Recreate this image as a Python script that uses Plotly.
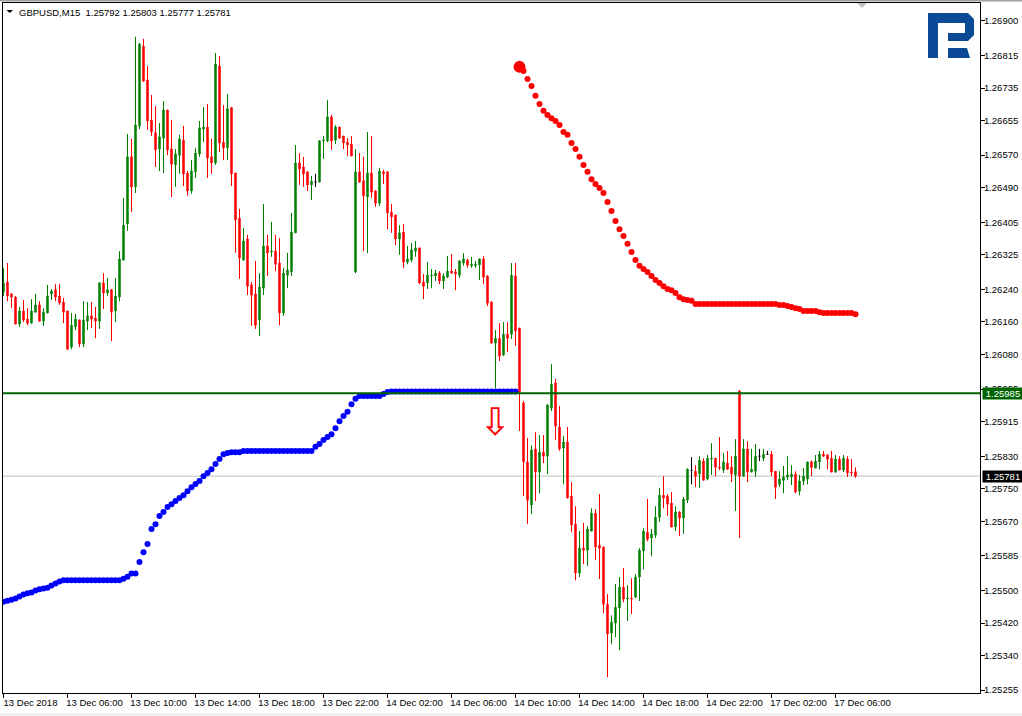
import plotly.graph_objects as go

# All prices are stored in points (0.00001) above 1.25000
BASE = 1.25
def px(points):
    return [BASE + p / 1e5 for p in points]

opens = [1234,1258,1229,1221,1155,1187,1167,1157,1184,1202,1162,1182,1229,1239,1224,1209,1187,1098,1148,1165,
 1106,1162,1175,1170,1162,1256,1231,1239,1187,1221,1312,1401,1566,1492,1642,1838,1755,1656,1625,1585,
 1612,1681,1585,1546,1570,1607,1526,1482,1529,1573,1634,1639,1566,1551,1789,1602,1588,1687,1526,1415,
 1312,1364,1251,1229,1165,1243,1347,1332,1334,1305,1182,1275,1283,1379,1551,1541,1529,1497,1504,1504,
 1605,1605,1664,1607,1639,1617,1602,1597,1283,1529,1507,1467,1526,1482,1452,1529,1529,1430,1423,1364,
 1381,1307,1312,1334,1342,1258,1256,1273,1273,1280,1261,1270,1285,1283,1275,1305,1312,1298,1298,1300,
 1315,1273,1209,1108,1120,1079,1130,1130,1273,1145,961,816,710,848,791,840,830,948,1010,902,
 850,865,732,663,543,604,599,646,690,611,607,466,395,420,457,508,479,481,484,533,
 597,643,629,636,680,734,732,715,656,693,678,722,795,793,786,818,774,823,825,803,
 796,813,803,784,990,781,848,791,793,830,825,835,835,793,761,771,779,779,786,744,
 769,774,816,801,816,835,833,825,791,823,796,823,791,792]
closes = [1255,1224,1221,1155,1187,1165,1157,1187,1202,1162,1184,1224,1236,1221,1207,1184,1093,1152,1167,1106,
 1165,1175,1167,1162,1256,1231,1239,1184,1224,1315,1398,1566,1492,1644,1843,1752,1654,1627,1583,1615,
 1681,1583,1548,1573,1610,1524,1482,1531,1575,1637,1639,1563,1551,1794,1600,1588,1684,1524,1411,1317,
 1359,1248,1226,1152,1246,1347,1330,1334,1302,1182,1280,1288,1381,1551,1536,1524,1497,1506,1504,1605,
 1607,1664,1605,1639,1612,1600,1595,1568,1529,1504,1470,1526,1479,1452,1531,1524,1428,1418,1364,1379,
 1307,1315,1337,1342,1256,1248,1275,1275,1280,1261,1273,1285,1280,1278,1310,1315,1300,1302,1302,1315,
 1270,1206,1108,1120,1076,1130,1120,1275,1138,988,816,722,845,791,840,830,956,1007,904,848,
 865,727,661,543,604,599,651,690,607,604,466,393,422,459,508,479,481,479,533,599,
 646,626,639,680,734,727,712,656,693,678,725,798,795,781,820,771,825,825,803,801,
 816,798,786,830,781,848,791,798,830,830,835,835,791,754,774,779,784,786,742,769,
 781,816,803,818,835,830,823,791,823,796,825,789,789,781]
highs = [1292,1305,1231,1224,1197,1214,1194,1216,1229,1211,1194,1251,1241,1253,1253,1219,1187,1182,1180,1165,
 1211,1209,1209,1197,1258,1280,1268,1241,1268,1334,1465,1622,1610,1861,1846,1856,1789,1718,1691,1649,
 1703,1681,1656,1585,1620,1642,1531,1558,1588,1654,1688,1696,1610,1821,1814,1693,1720,1688,1526,1438,
 1391,1374,1258,1310,1280,1450,1374,1406,1374,1366,1293,1330,1428,1595,1575,1566,1529,1519,1524,1607,
 1617,1706,1669,1644,1639,1617,1612,1617,1585,1575,1566,1627,1617,1484,1539,1534,1531,1450,1423,1398,
 1401,1347,1354,1359,1342,1278,1307,1290,1288,1285,1280,1322,1327,1290,1312,1329,1315,1320,1310,1315,
 1322,1275,1211,1140,1157,1160,1160,1305,1305,1145,966,875,857,889,882,882,958,1057,1020,953,
 880,902,766,707,646,666,658,702,700,737,607,491,439,516,533,555,513,530,540,604,
 653,725,651,707,752,781,737,742,707,695,730,800,828,808,830,825,833,862,825,877,
 838,843,830,872,993,872,867,848,860,848,848,843,843,793,793,806,830,808,793,784,
 801,816,820,833,843,843,835,843,833,830,833,830,823,803]
lows = [1224,1211,1194,1155,1148,1160,1152,1157,1184,1162,1150,1182,1214,1211,1202,1157,1091,1093,1140,1098,
 1098,1140,1145,1120,1143,1192,1224,1113,1160,1211,1312,1384,1430,1477,1634,1750,1632,1617,1541,1531,
 1526,1570,1467,1492,1524,1494,1470,1475,1514,1566,1602,1514,1524,1546,1578,1558,1558,1494,1330,1266,
 1312,1226,1150,1143,1125,1226,1273,1320,1285,1152,1175,1243,1273,1379,1497,1492,1482,1460,1492,1504,
 1561,1602,1583,1597,1610,1585,1568,1568,1280,1502,1334,1329,1465,1443,1445,1499,1388,1379,1349,1325,
 1293,1302,1307,1320,1253,1216,1241,1243,1261,1253,1241,1268,1280,1238,1268,1298,1293,1293,1293,1263,
 1253,1199,1108,997,1064,1076,1086,1118,1101,892,732,663,688,720,739,813,786,941,870,843,
 761,727,643,525,533,565,560,646,575,528,444,287,368,385,353,471,425,442,481,474,
 552,621,584,629,668,702,683,656,646,634,639,715,761,754,752,771,771,784,781,796,
 789,796,766,695,629,781,766,791,779,818,818,833,781,725,754,739,771,759,739,734,
 759,761,781,801,798,828,798,791,789,796,791,779,781,777]

# Stop-and-reverse style dots
blue_dots = [472,475,477,480,485,490,493,495,500,503,505,507,512,517,522,525,525,525,525,525,
 525,525,525,525,525,525,525,525,525,525,529,534,542,542,570,594,614,651,663,683,
 693,705,712,720,727,734,744,754,762,769,781,789,798,811,823,835,838,840,840,840,
 843,843,843,843,843,843,843,843,843,843,843,843,843,843,843,843,843,843,853,860,
 870,877,884,899,916,929,939,958,971,978,978,978,978,978,978,983,988,989,989,989,
 989,989,989,989,989,989,989,989,989,989,989,989,989,989,989,989,989,989,989,989,
 989,989,989,989,989,989,989,989,989]
red_start = 1787
red_dots = [1777,1757,1740,1716,1696,1679,1669,1661,1654,1644,1627,1620,1600,1585,1566,1546,1529,1511,1499,1489,
 1477,1455,1433,1408,1388,1371,1352,1332,1312,1298,1290,1283,1273,1263,1256,1248,1241,1238,1231,1221,
 1216,1214,1212,1204,1204,1204,1204,1204,1204,1204,1204,1204,1204,1204,1204,1204,1204,1204,1204,1204,
 1204,1204,1204,1204,1202,1202,1199,1197,1194,1192,1187,1187,1187,1187,1184,1182,1182,1182,1182,1182,
 1182,1182,1182,1179]

y_tick_values = [1.26900,1.26815,1.26735,1.26655,1.26570,1.26490,1.26405,1.26325,1.26240,1.26160,1.26080,
                 1.25995,1.25915,1.25830,1.25750,1.25670,1.25585,1.25500,1.25420,1.25340,1.25255]
x_tick_bars = [0,16,32,48,64,80,96,112,128,144,160,176,192,208]
x_tick_labels = ["13 Dec 2018","13 Dec 06:00","13 Dec 10:00","13 Dec 14:00","13 Dec 18:00","13 Dec 22:00",
                 "14 Dec 02:00","14 Dec 06:00","14 Dec 10:00","14 Dec 14:00","14 Dec 18:00","14 Dec 22:00",
                 "17 Dec 02:00","17 Dec 06:00"]
level_price = 1.25985
last_price = 1.25781
title_text = "GBPUSD,M15  1.25792 1.25803 1.25777 1.25781"
arrow_bar, arrow_price = 123.0, 1.25905

W, H = 1022, 716
L, R, T, B = 3, 980, 3, 693
FONT = "Liberation Sans"
FS = 9.5
GREEN, RED = "#008000", "#ff0000"

# layout helper: window pixels to paper fractions (for furniture only)
def fx(p): return (p - L) / (R - L)
def fy(p): return (B - p) / (B - T)
def path(points):
    return "M" + " L".join(f"{fx(a):.5f},{fy(b):.5f}" for a, b in points) + " Z"

bars = list(range(len(opens)))
normal = [i for i in bars if opens[i] != closes[i]]
doji = [i for i in bars if opens[i] == closes[i]]

fig = go.Figure()
fig.add_trace(go.Candlestick(
    x=normal,
    open=px([opens[i] for i in normal]), high=px([highs[i] for i in normal]),
    low=px([lows[i] for i in normal]), close=px([closes[i] for i in normal]),
    increasing=dict(line=dict(color=GREEN, width=1), fillcolor=GREEN),
    decreasing=dict(line=dict(color=RED, width=1), fillcolor=RED),
    whiskerwidth=0, hoverinfo="skip", showlegend=False))
fig.add_trace(go.Candlestick(
    x=doji,
    open=px([opens[i] for i in doji]), high=px([highs[i] for i in doji]),
    low=px([lows[i] for i in doji]), close=px([closes[i] for i in doji]),
    increasing=dict(line=dict(color="#000000", width=1), fillcolor="#000000"),
    decreasing=dict(line=dict(color="#000000", width=1), fillcolor="#000000"),
    whiskerwidth=0, hoverinfo="skip", showlegend=False))
fig.add_trace(go.Scatter(x=bars[:len(blue_dots)], y=px(blue_dots), mode="markers",
                         marker=dict(color="#0000ff", size=6, line=dict(width=0)),
                         hoverinfo="skip", showlegend=False))
fig.add_trace(go.Scatter(x=bars[130:130 + len(red_dots)], y=px(red_dots), mode="markers",
                         marker=dict(color="#ff0000", size=6, line=dict(width=0)),
                         hoverinfo="skip", showlegend=False))
fig.add_trace(go.Scatter(x=[129], y=px([red_start]), mode="markers",
                         marker=dict(color="#ff0000", size=12, line=dict(width=0)),
                         hoverinfo="skip", showlegend=False))
fig.add_trace(go.Scatter(x=[arrow_bar], y=[arrow_price], mode="text", text=["\u21e9"],
                         textposition="middle center",
                         textfont=dict(family="DejaVu Sans", size=38, color="#ff0000"),
                         hoverinfo="skip", showlegend=False))

shapes = [
    dict(type="line", xref="paper", x0=0, x1=1, yref="y", y0=last_price, y1=last_price,
         line=dict(color="#c0c0c0", width=1), layer="below"),
    dict(type="line", xref="paper", x0=0, x1=1, yref="y", y0=level_price, y1=level_price,
         line=dict(color="#006400", width=2), layer="above"),
    # window strips
    dict(type="rect", xref="paper", yref="paper", x0=fx(0), x1=fx(W), y0=fy(0), y1=fy(1.5),
         fillcolor="#a0a0a0", line=dict(width=0)),
    dict(type="rect", xref="paper", yref="paper", x0=fx(0), x1=fx(W), y0=fy(713), y1=fy(H),
         fillcolor="#f0f0f0", line=dict(width=0)),
    # shift marker and title triangle
    dict(type="path", xref="paper", yref="paper", path=path([(857, 3), (867, 3), (862, 8)]),
         fillcolor="#c0c0c0", line=dict(width=0)),
    dict(type="path", xref="paper", yref="paper", path=path([(6.5, 10), (13, 10), (9.75, 13)]),
         fillcolor="#000000", line=dict(width=0)),
    # logo
    dict(type="path", xref="paper", yref="paper", fillcolor="#0b4a96", line=dict(width=0),
         path=path([(928, 13), (968, 13), (974, 19), (974, 35), (968, 41), (948, 41), (948, 33),
                    (965, 33), (965, 23), (938, 23), (938, 58), (928, 58)])),
    dict(type="path", xref="paper", yref="paper", fillcolor="#0b4a96", line=dict(width=0),
         path=path([(948, 48), (967, 48), (970, 58), (948, 58)])),
]

annotations = [
    dict(xref="paper", yref="paper", x=fx(16.5), y=fy(12), text=title_text, showarrow=False,
         xanchor="left", yanchor="middle", font=dict(family=FONT, size=FS, color="#000000")),
    dict(xref="paper", yref="y", x=fx(982), y=level_price, text=f"{level_price:.5f}", showarrow=False,
         xanchor="left", yanchor="middle", width=40, height=11, borderpad=0, bgcolor="#006400",
         font=dict(family=FONT, size=FS, color="#ffffff")),
    dict(xref="paper", yref="y", x=fx(982), y=last_price, text=f"{last_price:.5f}", showarrow=False,
         xanchor="left", yanchor="middle", width=40, height=11, borderpad=0, bgcolor="#000000",
         font=dict(family=FONT, size=FS, color="#ffffff")),
]

fig.update_layout(
    width=W, height=H, autosize=False,
    margin=dict(l=L, r=W - R, t=T, b=H - B, pad=0, autoexpand=False),
    paper_bgcolor="#ffffff", plot_bgcolor="#ffffff",
    showlegend=False, boxgap=0.5, dragmode=False,
    shapes=shapes, annotations=annotations,
    xaxis=dict(range=[(L - 3.5) / 4, (R - 3.5) / 4], rangeslider=dict(visible=False),
               tickmode="array", tickvals=x_tick_bars, ticktext=x_tick_labels,
               tickangle=0, ticks="outside", ticklen=4, tickcolor="#000000", tickwidth=1,
               ticklabelshift=27, ticklabelstandoff=-3,
               showgrid=False, zeroline=False, showline=True, linecolor="#000000", linewidth=1,
               mirror=True, tickfont=dict(family=FONT, size=FS, color="#000000")),
    yaxis=dict(range=[1.25248, 1.26944], side="right",
               tickmode="array", tickvals=y_tick_values, ticktext=[f"{v:.5f}" for v in y_tick_values],
               ticks="outside", ticklen=4, tickcolor="#000000", tickwidth=1, ticklabelstandoff=-3,
               showgrid=False, zeroline=False, showline=True, linecolor="#000000", linewidth=1,
               mirror=True, tickfont=dict(family=FONT, size=FS, color="#000000")),
)

fig.write_html("out.html", config=dict(displayModeBar=False, staticPlot=True),
               post_script="document.body.style.margin='0';")
